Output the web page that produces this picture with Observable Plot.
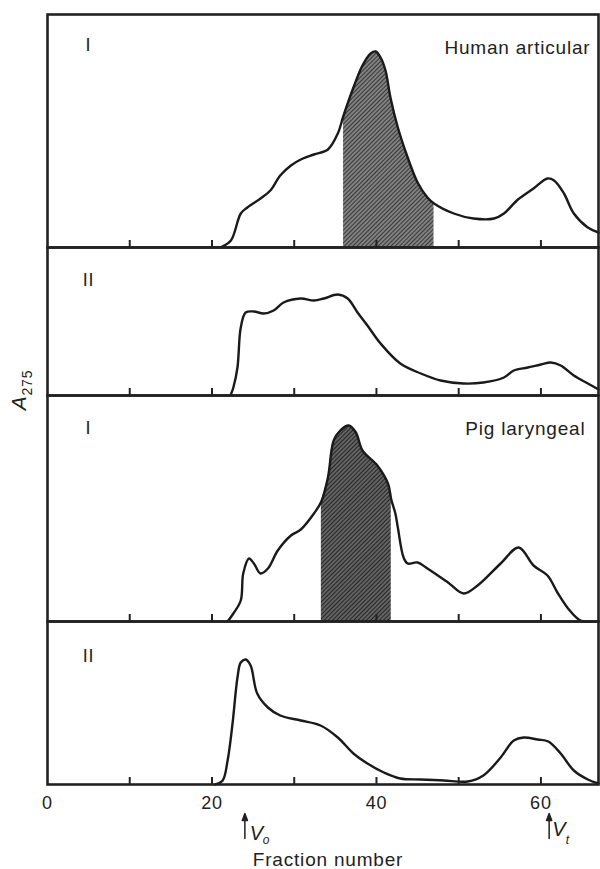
<!DOCTYPE html>
<html>
<head>
<meta charset="utf-8">
<script src="https://cdn.jsdelivr.net/npm/d3@7"></script>
<script src="https://cdn.jsdelivr.net/npm/@observablehq/plot@0.6"></script>
<style>
  body { margin: 0; background: white; }
  #wrap { position: relative; width: 600px; height: 869px; overflow: hidden; background: white; }
  #wrap > svg.plotpanel { position: absolute; left: 0; }
  #wrap text { letter-spacing: 0.8px; }
</style>
</head>
<body>
<div id="wrap">
  <svg width="0" height="0" style="position:absolute">
    <defs>
      <pattern id="hatch1" width="3" height="3" patternUnits="userSpaceOnUse" patternTransform="rotate(45)">
        <rect width="3" height="3" fill="#808080"></rect>
        <line x1="0" y1="0" x2="0" y2="3" stroke="#262626" stroke-width="1.6"></line>
      </pattern>
      <pattern id="hatch2" width="3" height="3" patternUnits="userSpaceOnUse" patternTransform="rotate(45)">
        <rect width="3" height="3" fill="#626262"></rect>
        <line x1="0" y1="0" x2="0" y2="3" stroke="#202020" stroke-width="1.8"></line>
      </pattern>
    </defs>
  </svg>
  <svg width="60" height="869" style="position:absolute;left:0;top:0">
    <text transform="translate(26,390) rotate(-90)" text-anchor="middle" font-family="Liberation Sans, Arial, sans-serif" fill="#222"><tspan font-style="italic" font-size="21">A</tspan><tspan font-size="14" dy="6">275</tspan></text>
  </svg>
</div>
<script>
// ---- data (fraction number, A275) ----
const humanI_f = [21.0, 22.3, 23.5, 24.3, 25.9, 27.1, 28.3, 29.6, 30.8, 32.4, 34.1, 35.3, 36.0, 37.2, 38.3, 39.3, 39.9, 40.5, 41.1, 41.7, 42.6, 43.8, 45.0, 46.2, 47.0, 49.4, 51.8, 54.3, 55.5, 57.2, 59.1, 60.8, 61.6, 62.8, 64.0, 65.7, 67.0];
const humanI_a = [0.00, 0.07, 0.34, 0.40, 0.49, 0.57, 0.72, 0.82, 0.88, 0.93, 0.98, 1.14, 1.32, 1.60, 1.82, 1.94, 1.96, 1.90, 1.77, 1.50, 1.20, 0.90, 0.65, 0.50, 0.44, 0.34, 0.29, 0.29, 0.34, 0.48, 0.59, 0.69, 0.67, 0.54, 0.34, 0.20, 0.15];
const humanI_shade = [36.0, 47.0];

const humanII_f = [22.3, 22.6, 23.1, 23.5, 24.1, 25.1, 26.3, 27.5, 28.7, 30.8, 32.4, 33.6, 35.3, 36.5, 37.7, 38.9, 40.5, 42.9, 45.4, 47.8, 50.6, 53.0, 55.5, 56.7, 58.4, 60.0, 61.2, 62.4, 64.0, 65.7, 67.0];
const humanII_a = [0.01, 0.08, 0.28, 0.68, 0.83, 0.84, 0.82, 0.85, 0.93, 0.97, 0.95, 0.97, 1.01, 0.97, 0.83, 0.70, 0.52, 0.32, 0.22, 0.15, 0.12, 0.13, 0.18, 0.25, 0.28, 0.31, 0.33, 0.30, 0.20, 0.12, 0.06];

const pigI_f = [21.9, 22.6, 23.5, 23.8, 24.5, 25.1, 25.9, 26.8, 28.0, 29.6, 30.8, 32.4, 33.3, 34.1, 34.8, 35.6, 36.6, 37.5, 38.3, 40.1, 41.4, 41.8, 42.3, 42.6, 43.3, 43.8, 45.0, 46.2, 48.7, 50.6, 52.3, 55.1, 57.3, 59.1, 60.8, 62.0, 63.3, 64.8, 66.4];
const pigI_a = [0.00, 0.08, 0.21, 0.48, 0.63, 0.58, 0.48, 0.53, 0.71, 0.86, 0.92, 1.08, 1.20, 1.44, 1.81, 1.91, 1.96, 1.89, 1.71, 1.56, 1.38, 1.22, 1.08, 0.94, 0.64, 0.58, 0.59, 0.53, 0.39, 0.28, 0.36, 0.58, 0.74, 0.56, 0.46, 0.29, 0.13, 0.01, 0.00];
const pigI_shade = [33.3, 41.8];

const pigII_f = [20.4, 21.3, 21.9, 22.5, 23.1, 23.5, 24.1, 24.7, 25.5, 26.8, 28.3, 30.8, 33.2, 35.3, 37.2, 38.9, 40.9, 42.9, 45.4, 48.2, 51.1, 53.0, 55.1, 56.7, 57.9, 59.6, 60.9, 62.4, 64.0, 65.7, 67.0];
const pigII_a = [0.00, 0.04, 0.24, 0.61, 1.07, 1.22, 1.25, 1.19, 0.91, 0.77, 0.69, 0.64, 0.59, 0.47, 0.31, 0.21, 0.12, 0.06, 0.05, 0.04, 0.03, 0.09, 0.27, 0.44, 0.47, 0.45, 0.43, 0.31, 0.14, 0.05, 0.01];

const xDomain = [0, 67];
const minorTicks = [10, 20, 30, 40, 50, 60];
const tickLabels = [0, 20, 40, 60];
const markers = [{f: 24.0, sub: "o"}, {f: 61.0, sub: "t"}];
const xLabel = "Fraction number";

// ---- layout ----
const INK = "#222";
const FONT = "Liberation Sans, Arial, sans-serif";
const toRows = (fs, as) => fs.map((f, i) => ({f, a: as[i]}));

const panels = [
  {rows: toRows(humanI_f, humanI_a), shade: humanI_shade, hatch: "url(#hatch1)", roman: "I", name: "Human articular",
   top: 0, mt: 14, inner: 233, mb: 3, romanDy: 24, nameDx: -8, nameDy: 26},
  {rows: toRows(humanII_f, humanII_a), roman: "II",
   top: 244, mt: 3, inner: 148, mb: 3, romanDy: 26},
  {rows: toRows(pigI_f, pigI_a), shade: pigI_shade, hatch: "url(#hatch2)", roman: "I", name: "Pig laryngeal",
   top: 392, mt: 3, inner: 226, mb: 3, romanDy: 26, nameDx: -13, nameDy: 26},
  {rows: toRows(pigII_f, pigII_a), roman: "II",
   top: 618, mt: 3, inner: 163, mb: 85, romanDy: 28, last: true}
];

const arrowShape = {
  draw(context, l) {
    context.moveTo(0, 0);
    context.lineTo(0, -l + 5);
    context.moveTo(0, -l);
    context.lineTo(-2.6, -l + 7);
    context.lineTo(2.6, -l + 7);
    context.closePath();
  }
};
const markerText = [
  {vDx: 5, vDy: 55, sDx: 18, sDy: 59},
  {vDx: 3, vDy: 51, sDx: 16.5, sDy: 59}
];

const wrap = document.getElementById("wrap");

for (const p of panels) {
  const marks = [];
  if (p.shade) {
    marks.push(Plot.areaY(p.rows.filter(d => d.f >= p.shade[0] && d.f <= p.shade[1]),
      {x: "f", y: "a", fill: p.hatch, curve: "catmull-rom"}));
  }
  marks.push(Plot.lineY(p.rows, {x: "f", y: "a", stroke: "#1a1a1a", strokeWidth: 2.4, curve: "catmull-rom"}));
  marks.push(Plot.tickX(minorTicks, {x: d => d, insetTop: p.inner - 7, stroke: INK, strokeWidth: 2}));
  marks.push(Plot.frame({stroke: INK, strokeWidth: 2.6}));
  marks.push(Plot.text([p.roman], {text: d => d, frameAnchor: "top-left", textAnchor: "middle",
    dx: 41, dy: p.romanDy, fontSize: 18, fill: INK}));
  if (p.name) {
    marks.push(Plot.text([p.name], {text: d => d, frameAnchor: "top-right", textAnchor: "end",
      dx: p.nameDx, dy: p.nameDy, fontSize: 19, fill: INK}));
  }
  if (p.last) {
    marks.push(Plot.axisX({ticks: tickLabels, tickSize: 0, tickPadding: 12, fontSize: 18, label: null, fill: INK}));
    markers.forEach((m, i) => {
      const t = markerText[i];
      marks.push(Plot.vector([m], {x: "f", frameAnchor: "bottom", dy: 54, length: 25, rotate: 0,
        anchor: "start", shape: arrowShape, stroke: INK, fill: INK, strokeWidth: 1.5}));
      marks.push(Plot.text([m], {x: "f", text: () => "V", frameAnchor: "bottom", textAnchor: "start",
        dx: t.vDx, dy: t.vDy, fontSize: 20, fontStyle: "italic", fill: INK}));
      marks.push(Plot.text([m], {x: "f", text: "sub", frameAnchor: "bottom", textAnchor: "start",
        dx: t.sDx, dy: t.sDy, fontSize: 12, fontStyle: "italic", fill: INK}));
    });
    marks.push(Plot.text([xLabel], {text: d => d, frameAnchor: "bottom", dx: 5, dy: 81, fontSize: 19, fill: INK}));
  }
  const chart = Plot.plot({
    width: 600,
    height: p.mt + p.inner + p.mb,
    marginTop: p.mt,
    marginBottom: p.mb,
    marginLeft: 47,
    marginRight: 2,
    x: {domain: xDomain, axis: null},
    y: {domain: [0, p.inner / 100], axis: null},
    style: {fontFamily: FONT, background: "transparent", overflow: "visible"},
    marks
  });
  chart.classList.add("plotpanel");
  chart.style.position = "absolute";
  chart.style.top = p.top + "px";
  chart.style.left = "0px";
  wrap.appendChild(chart);
}
</script>
</body>
</html>
